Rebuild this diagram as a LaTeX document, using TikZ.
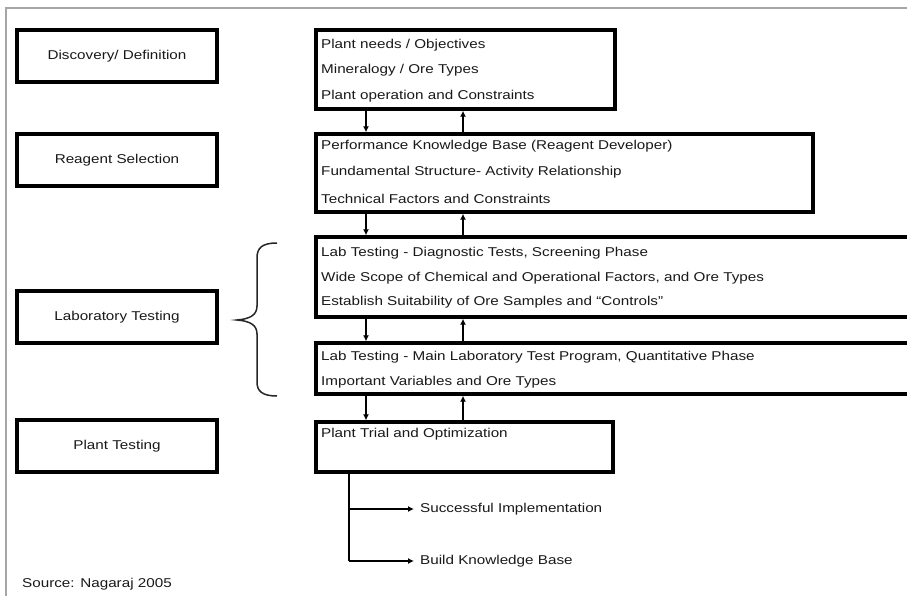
\documentclass[tikz,border=0pt]{standalone}
\usepackage{fontspec}
\setmainfont{Liberation Sans}[FakeStretch=1.19]
\usetikzlibrary{arrows.meta}
\begin{document}
\begin{tikzpicture}[x=1pt,y=-1pt,
  lbox/.style={draw=black,line width=3.4pt,minimum width=200pt,minimum height=52pt,inner sep=0pt,
     font=\fontsize{12.8}{14}\selectfont,text=black!90},
  rbox/.style={draw=black,line width=3.4pt,inner sep=0pt},
  ltxt/.style={anchor=west,inner sep=0pt,font=\fontsize{12.8}{14}\selectfont,text=black!90},
  arr/.style={line width=1.9pt,-{Latex[length=6pt,width=6pt]}},
  conn/.style={line width=1.9pt}]
\useasboundingbox (0,0) rectangle (907,596);
\fill[white] (0,0) rectangle (907,596);
% frame
\draw[gray!70,line width=1.8pt] (6,596) -- (6,8) -- (907,8);
% left boxes
\node[lbox] (disc) at (117,56) {Discovery/ Definition};
\node[lbox] (reag) at (117,160) {Reagent Selection};
\node[lbox] (lab) at (117,317) {Laboratory Testing};
\node[lbox] (plant) at (117,446) {Plant Testing};
% right boxes
\node[rbox,minimum width=299pt,minimum height=79pt] (b1) at (465.5,69.5) {};
\node[rbox,minimum width=497pt,minimum height=78pt] (b2) at (564.5,173) {};
\node[rbox,minimum width=600pt,minimum height=80pt] (b3) at (616,277) {};
\node[rbox,minimum width=600pt,minimum height=51pt] (b4) at (616,368.5) {};
\node[rbox,minimum width=297pt,minimum height=50pt] (b5) at (464.5,447) {};
% texts
\node[ltxt] (t11) at (321,45) {Plant needs / Objectives};
\node[ltxt] (t12) at (321,70) {Mineralogy / Ore Types};
\node[ltxt] (t13) at (321,96) {Plant operation and Constraints};
\node[ltxt] (t21) at (321,146) {Performance Knowledge Base (Reagent Developer)};
\node[ltxt] (t22) at (321,172) {Fundamental Structure- Activity Relationship};
\node[ltxt] (t23) at (321,199) {Technical Factors and Constraints};
\node[ltxt] (t31) at (321,253) {Lab Testing - Diagnostic Tests, Screening Phase};
\node[ltxt] (t32) at (321,278) {Wide Scope of Chemical and Operational Factors, and Ore Types};
\node[ltxt] (t33) at (321,302) {Establish Suitability of Ore Samples and ``Controls''};
\node[ltxt] (t41) at (321,357) {Lab Testing - Main Laboratory Test Program, Quantitative Phase};
\node[ltxt] (t42) at (321,382) {Important Variables and Ore Types};
\node[ltxt] (t51) at (321,434) {Plant Trial and Optimization};
\node[ltxt] (si) at (420,509) {Successful Implementation};
\node[ltxt] (kb) at (420,561) {Build Knowledge Base};
\node[ltxt] (src) at (22,584) {Source: Nagaraj 2005};
% arrow columns
\coordinate (dx) at (366,0);
\coordinate (ux) at (463,0);
\coordinate (bx) at (349,0);
\draw[arr] (b1.south -| dx) -- (b2.north -| dx);
\draw[arr] (b2.north -| ux) -- (b1.south -| ux);
\draw[arr] (b2.south -| dx) -- (b3.north -| dx);
\draw[arr] (b3.north -| ux) -- (b2.south -| ux);
\draw[arr] (b3.south -| dx) -- (b4.north -| dx);
\draw[arr] (b4.north -| ux) -- (b3.south -| ux);
\draw[arr] (b4.south -| dx) -- (b5.north -| dx);
\draw[arr] (b5.north -| ux) -- (b4.south -| ux);
% outputs
\coordinate (sie) at (414,509);
\coordinate (kbe) at (414,561);
\draw[conn] (b5.south -| bx) -- (bx |- kbe);
\draw[arr] (bx |- kbe) -- (kbe);
\draw[arr] (bx |- sie) -- (sie);
% brace
\draw[line width=1.5pt,black!85] (277,243) .. controls (262,243) and (257,248) .. (257,258) -- (257,306)
  .. controls (257,315) and (250,319) .. (237,320)
  .. controls (250,321) and (257,325) .. (257,334) -- (257,382)
  .. controls (257,391) and (262,396) .. (277,396);
\end{tikzpicture}
\end{document}
